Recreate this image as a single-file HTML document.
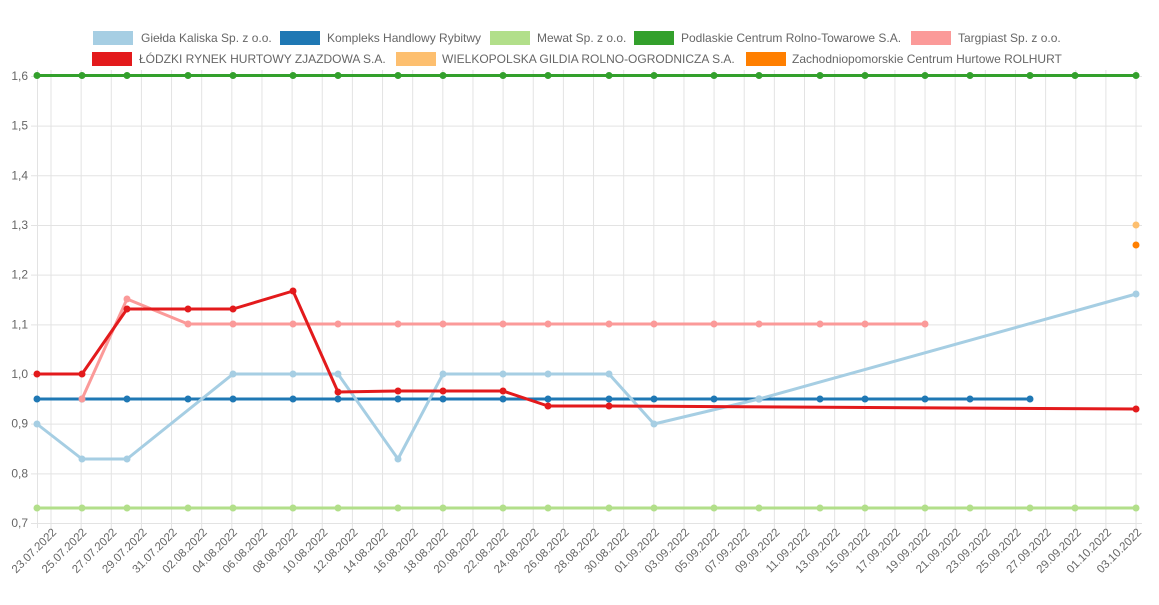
<!DOCTYPE html>
<html><head><meta charset="utf-8"><style>
html,body{margin:0;padding:0;background:#fff;}
svg{display:block;font-family:"Liberation Sans",Arial,sans-serif;}
</style></head><body>
<svg width="1159" height="605" viewBox="0 0 1159 605" xmlns="http://www.w3.org/2000/svg">
<g id="grid" stroke="#e3e3e3" stroke-width="1"></g>
<g id="ylab" font-size="12" fill="#666" text-anchor="end"></g>
<g id="xlab" font-size="11.5" fill="#666" text-anchor="end"></g>
<g id="series" fill="none" stroke-width="3" stroke-linejoin="round"></g>
<g font-size="12" fill="#666">
<rect x="93" y="31" width="40" height="14" fill="#a6cee3"/><text x="141" y="42">Giełda Kaliska Sp. z o.o.</text>
<rect x="280" y="31" width="40" height="14" fill="#1f78b4"/><text x="327" y="42">Kompleks Handlowy Rybitwy</text>
<rect x="490" y="31" width="40" height="14" fill="#b2df8a"/><text x="537" y="42">Mewat Sp. z o.o.</text>
<rect x="634" y="31" width="40" height="14" fill="#33a02c"/><text x="681" y="42">Podlaskie Centrum Rolno-Towarowe S.A.</text>
<rect x="911" y="31" width="40" height="14" fill="#fb9a99"/><text x="958" y="42">Targpiast Sp. z o.o.</text>
<rect x="92" y="52" width="40" height="14" fill="#e31a1c"/><text x="139" y="63">ŁÓDZKI RYNEK HURTOWY ZJAZDOWA S.A.</text>
<rect x="396" y="52" width="40" height="14" fill="#fdbf6f"/><text x="442" y="63">WIELKOPOLSKA GILDIA ROLNO-OGRODNICZA S.A.</text>
<rect x="746" y="52" width="40" height="14" fill="#ff7f00"/><text x="792" y="63">Zachodniopomorskie Centrum Hurtowe ROLHURT</text>
</g>
</svg>
<script>
const NS="http://www.w3.org/2000/svg";
function el(p,t,a,txt){const e=document.createElementNS(NS,t);for(const k in a)e.setAttribute(k,a[k]);if(txt)e.textContent=txt;p.appendChild(e);return e;}
const grid=document.getElementById('grid'),yl=document.getElementById('ylab'),xl=document.getElementById('xlab'),se=document.getElementById('series');
const y=v=>523-(v-0.7)*496.7;
for(let i=0;i<=9;i++){const v=0.7+i*0.1,yy=y(v);el(grid,'line',{x1:31,x2:1142,y1:yy+0.5,y2:yy+0.5});el(yl,'text',{x:28,y:yy+4},v.toFixed(1).replace('.',','));}
el(grid,'line',{x1:37.5,x2:37.5,y1:70,y2:528});
const start=new Date(2022,6,23);
for(let k=0;k<37;k++){const x=51+k*30.14;el(grid,'line',{x1:x,x2:x,y1:70,y2:528});const d=new Date(start.getTime()+k*2*86400000);
const s=String(d.getDate()).padStart(2,'0')+'.'+String(d.getMonth()+1).padStart(2,'0')+'.'+d.getFullYear();
el(xl,'text',{x:x+6,y:533,transform:`rotate(-45 ${x+6} 533)`},s);}
const X=[37,82,127,188,233,293,338,398,443,503,548,609,654,714,759,820,865,925,970,1030,1075,1136];
function ser(pts,c,r){el(se,'polyline',{points:pts.map(p=>p.join(',')).join(' '),stroke:c});pts.forEach(p=>el(se,'circle',{cx:p[0],cy:p[1],r:r||3.5,fill:c,stroke:'none'}));}
ser(X.map(x=>[x,508]),'#b2df8a');
ser(X.map(x=>[x,75.5]),'#33a02c');
ser(X.slice(0,20).map(x=>[x,399]),'#1f78b4');
ser([[37,424],[82,459],[127,459],[233,374],[293,374],[338,374],[398,459],[443,374],[503,374],[548,374],[609,374],[654,424],[759,399],[1136,294]],'#a6cee3');
ser([[82,399]].concat(X.slice(2,18).map(x=>[x,x==127?299:324])),'#fb9a99');
ser([[37,374],[82,374],[127,309],[188,309],[233,309],[293,291],[338,392],[398,391],[443,391],[503,391],[548,406],[609,406],[1136,409]],'#e31a1c');
el(se,'circle',{cx:1136,cy:225,r:3.5,fill:'#fdbf6f',stroke:'none'});
el(se,'circle',{cx:1136,cy:245,r:3.5,fill:'#ff7f00',stroke:'none'});
</script>
</body></html>
